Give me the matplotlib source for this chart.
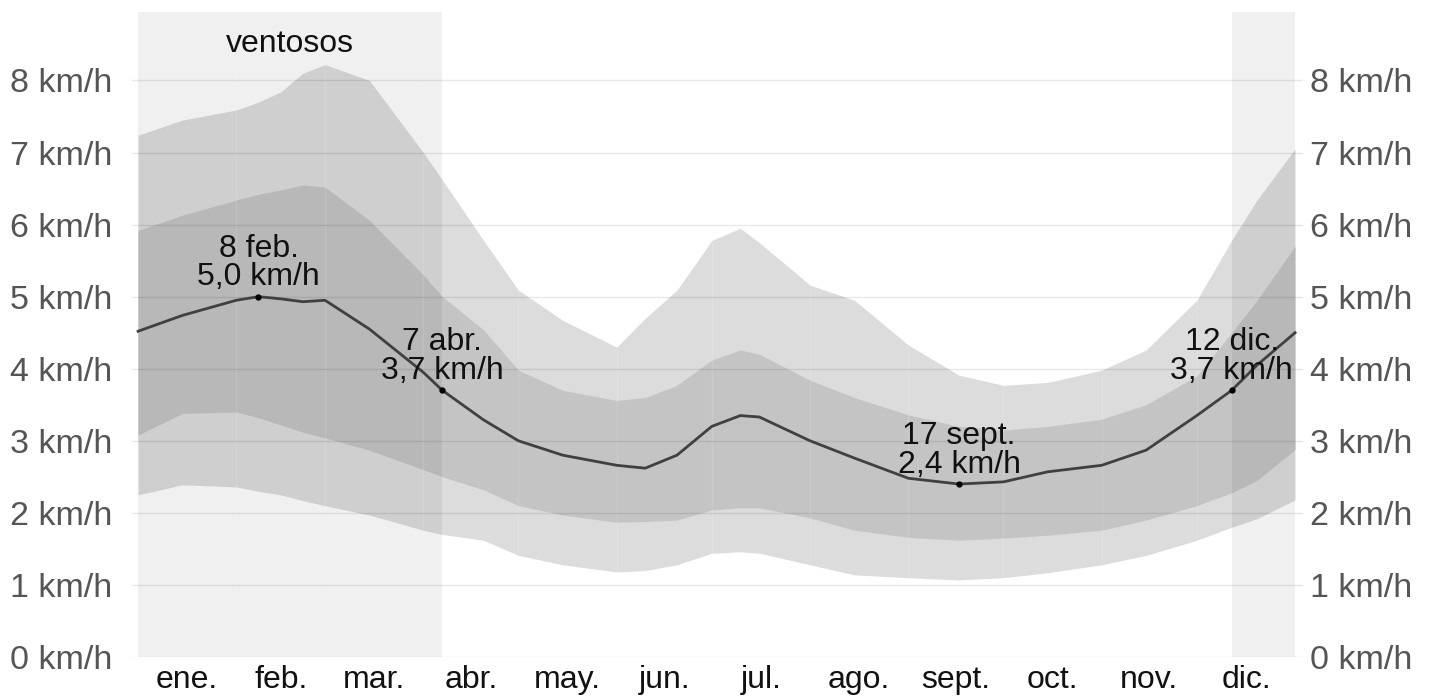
import matplotlib
matplotlib.use("Agg")
import matplotlib.pyplot as plt

# day of year (0 = 1 Jan, 365 = 31 Dec)
days = [0, 14, 31, 38, 45, 52, 59, 73, 90, 96, 109, 120, 134, 151, 160, 170,
        181, 190, 196, 212, 226, 243, 259, 273, 287, 304, 318, 334, 345, 353, 365]

median = [4.52, 4.74, 4.95, 5.0, 4.97, 4.93, 4.95, 4.55, 3.95, 3.7, 3.29, 3.0, 2.8,
          2.66, 2.62, 2.8, 3.2, 3.35, 3.33, 3.0, 2.76, 2.48, 2.4, 2.43, 2.57,
          2.66, 2.87, 3.35, 3.7, 4.05, 4.5]

p75 = [5.92, 6.13, 6.34, 6.42, 6.48, 6.55, 6.52, 6.06, 5.3, 5.0, 4.54, 3.98, 3.7,
       3.56, 3.6, 3.77, 4.12, 4.26, 4.2, 3.84, 3.6, 3.36, 3.2, 3.15, 3.2,
       3.3, 3.5, 3.9, 4.5, 4.95, 5.7]

p25 = [3.08, 3.38, 3.4, 3.32, 3.22, 3.12, 3.04, 2.87, 2.6, 2.5, 2.32, 2.1, 1.97,
       1.87, 1.88, 1.9, 2.04, 2.07, 2.07, 1.93, 1.76, 1.66, 1.62, 1.65, 1.69,
       1.76, 1.9, 2.1, 2.28, 2.45, 2.88]

p90 = [7.24, 7.45, 7.59, 7.7, 7.84, 8.1, 8.22, 8.0, 7.0, 6.62, 5.78, 5.09, 4.67,
       4.3, 4.7, 5.09, 5.78, 5.95, 5.75, 5.16, 4.95, 4.33, 3.91, 3.77, 3.81,
       3.98, 4.26, 4.95, 5.78, 6.34, 7.05]

p10 = [2.25, 2.39, 2.36, 2.3, 2.25, 2.17, 2.1, 1.97, 1.76, 1.7, 1.62, 1.41, 1.28,
       1.18, 1.2, 1.28, 1.44, 1.46, 1.44, 1.28, 1.14, 1.1, 1.07, 1.1, 1.17,
       1.28, 1.41, 1.62, 1.8, 1.92, 2.18]

# highlighted days
mark_days = [38, 96, 259, 345]
mark_vals = [5.0, 3.7, 2.4, 3.7]
mark_text = ["8 feb.\n5,0 km/h", "7 abr.\n3,7 km/h", "17 sept.\n2,4 km/h", "12 dic.\n3,7 km/h"]

# windy season
windy = [(0, 96), (345, 365)]

month_start = [0, 31, 59, 90, 120, 151, 181, 212, 243, 273, 304, 334, 365]
month_names = ["ene.", "feb.", "mar.", "abr.", "may.", "jun.", "jul.", "ago.",
               "sept.", "oct.", "nov.", "dic."]
y_ticks = [0, 1, 2, 3, 4, 5, 6, 7, 8]

plt.rcParams['font.family'] = ['Liberation Sans', 'DejaVu Sans']

fig = plt.figure(figsize=(14.32, 6.96), dpi=100)
ax = fig.add_axes([132 / 1432, 39 / 696, 1171 / 1432, 645 / 696])
ax.set_xlim(-1.9, 367.5)
ax.set_ylim(0, 8.95)

ax.fill_between(days, p10, p90, color="#dcdcdc", lw=0, zorder=1)
ax.fill_between(days, p25, p75, color="#c4c4c4", lw=0, zorder=2)

for a, b in windy:
    ax.axvspan(a, b, color="black", alpha=0.06, lw=0, zorder=3)

for m in month_start[1:-1]:
    ax.axvline(m, color="white", alpha=0.12, lw=1, zorder=3)

for t in y_ticks:
    ax.axhline(t, color="black", alpha=0.09, lw=1, zorder=3)

ax.plot(days, median, color="#404040", lw=2, zorder=4)
ax.plot(mark_days, mark_vals, "o", color="black", ms=3.5, zorder=5)

for d, v, s in zip(mark_days, mark_vals, mark_text):
    ax.annotate(s, (d, v), xytext=(0, 3), textcoords="offset points",
                ha="center", va="bottom", fontsize=23, color="#111111",
                linespacing=0.95, zorder=6)

ax.text(sum(windy[0]) / 2, 8.5, "ventosos", ha="center", va="center",
        fontsize=23, color="#111111")

mids = [(month_start[i] + month_start[i + 1]) / 2 for i in range(12)]
ax.set_xticks(mids)
ax.set_xticklabels(month_names, fontsize=23, color="#111111")
ax.set_yticks(y_ticks)
ax.set_yticklabels([f"{t} km/h" for t in y_ticks], fontsize=24.5, color="#555555")
ax.tick_params(axis="x", length=0, pad=6)
ax.tick_params(axis="y", length=0, pad=14)
for sp in ax.spines.values():
    sp.set_visible(False)

# right-hand axis with the same ticks
ax2 = ax.twinx()
ax2.set_ylim(ax.get_ylim())
ax2.set_yticks(y_ticks)
ax2.set_yticklabels([f"{t} km/h" for t in y_ticks], fontsize=24.5, color="#555555")
ax2.tick_params(axis="y", length=0, pad=5)
for sp in ax2.spines.values():
    sp.set_visible(False)

fig.savefig("out.png", dpi=100)
